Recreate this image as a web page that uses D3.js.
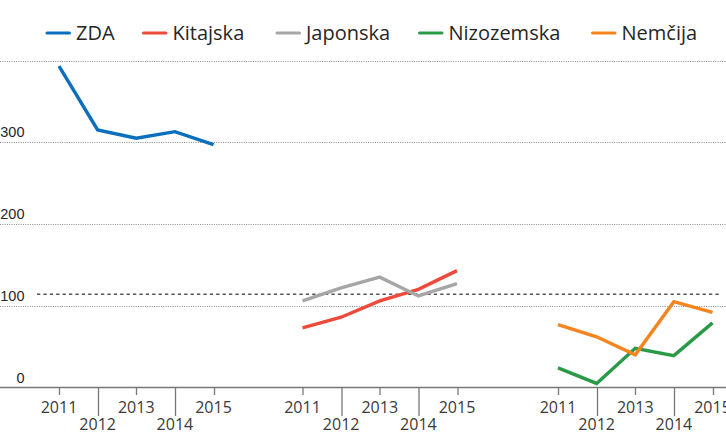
<!DOCTYPE html>
<html>
<head>
<meta charset="utf-8">
<script src="https://cdn.jsdelivr.net/npm/d3@7"></script>
<style>
  body { margin: 0; background: #fff; }
  svg { display: block; }
  .legend text { font-family: "Open Sans", sans-serif; font-size: 20px; fill: #262626; }
  .ylab { font-family: "Liberation Sans", Arial, sans-serif; font-size: 14.5px; fill: #262626; }
  .xlab { font-family: "Open Sans", sans-serif; font-size: 16px; fill: #3a3a3a; }
</style>
</head>
<body>
<svg id="chart"></svg>
<script>
// Chart size
const width = 726;
const height = 435;

const svg = d3.select("#chart")
    .attr("width", width)
    .attr("height", height);

// Data
const years = [2011, 2012, 2013, 2014, 2015];
const countries = ["ZDA", "Kitajska", "Japonska", "Nizozemska", "Nemčija"];
const colors = ["#0b6fbd", "#ec4a3b", "#a6a6a6", "#2a9a46", "#f5841f"];
const panelOf = [0, 1, 1, 2, 2];
const zda = [393, 315, 305, 313, 297];
const kitajska = [73, 86, 106, 120, 143];
const japonska = [106, 122, 135, 112, 127];
const nizozemska = [24, 5, 48, 39, 79];
const nemcija = [77, 62, 40, 105, 92];
const seriesValues = [zda, kitajska, japonska, nizozemska, nemcija];
const yTicks = [0, 100, 200, 300, 400];
const referenceLevel = 114;

// Scales
const y = d3.scaleLinear().domain([0, 400]).range([387.5, 60.5]);
const panelX = d3.scaleOrdinal().domain([0, 1, 2]).range([59, 302.5, 558]);
const x = d3.scaleLinear().domain([2011, 2015]).range([0, 154.5]);

// Gridlines (dotted)
svg.append("g")
    .selectAll("line")
    .data(yTicks.filter(d => d > 0))
    .enter()
    .append("line")
    .attr("x1", 0)
    .attr("x2", width)
    .attr("y1", d => Math.round(y(d)) + 0.5)
    .attr("y2", d => Math.round(y(d)) + 0.5)
    .attr("stroke", "#8c8c8c")
    .attr("stroke-width", 1)
    .attr("stroke-dasharray", "1,1.3");

// Y labels
svg.append("g")
    .selectAll("text")
    .data(yTicks.filter(d => d < 400))
    .enter()
    .append("text")
    .attr("class", "ylab")
    .attr("x", 24.5)
    .attr("y", d => y(d) - 5)
    .attr("text-anchor", "end")
    .text(d => d);

// Reference dashed line
svg.append("line")
    .attr("x1", 37)
    .attr("x2", 719)
    .attr("y1", y(referenceLevel))
    .attr("y2", y(referenceLevel))
    .attr("stroke", "#555")
    .attr("stroke-width", 1.6)
    .attr("stroke-dasharray", "3.3,3.1");

// Zero axis line
svg.append("line")
    .attr("x1", 0)
    .attr("x2", width)
    .attr("y1", y(0))
    .attr("y2", y(0))
    .attr("stroke", "#777")
    .attr("stroke-width", 1.5);

// X axis per panel
[0, 1, 2].forEach(p => {
    const g = svg.append("g").attr("transform", `translate(${panelX(p)},0)`);
    const odd = (d, i) => i % 2 === 0;
    g.selectAll("line")
        .data(years)
        .enter()
        .append("line")
        .attr("x1", d => Math.round(x(d)) + 0.5)
        .attr("x2", d => Math.round(x(d)) + 0.5)
        .attr("y1", y(0))
        .attr("y2", (d, i) => odd(d, i) ? 395 : 416)
        .attr("stroke", "#777")
        .attr("stroke-width", 1.3);
    g.selectAll("text")
        .data(years)
        .enter()
        .append("text")
        .attr("class", "xlab")
        .attr("x", d => x(d))
        .attr("y", (d, i) => odd(d, i) ? 413 : 430)
        .attr("text-anchor", "middle")
        .text(d => d);
});

// Lines
const line = d3.line()
    .x(d => x(d.year))
    .y(d => y(d.value));

countries.forEach((c, i) => {
    const data = years.map((yr, j) => ({ year: yr, value: seriesValues[i][j] }));
    svg.append("path")
        .datum(data)
        .attr("transform", `translate(${panelX(panelOf[i])},0)`)
        .attr("fill", "none")
        .attr("stroke", colors[i])
        .attr("stroke-width", 3.4)
        .attr("stroke-linejoin", "miter")
        .attr("d", line);
});

// Legend
const legendX = [47, 143.5, 277, 419.5, 592.5];
const legend = svg.append("g").attr("class", "legend");
countries.forEach((c, i) => {
    legend.append("line")
        .attr("x1", legendX[i])
        .attr("x2", legendX[i] + 22.5)
        .attr("y1", 33)
        .attr("y2", 33)
        .attr("stroke", colors[i])
        .attr("stroke-width", 3)
        .attr("stroke-linecap", "round");
    legend.append("text")
        .attr("x", legendX[i] + 29)
        .attr("y", 40)
        .text(c);
});
</script>
</body>
</html>
